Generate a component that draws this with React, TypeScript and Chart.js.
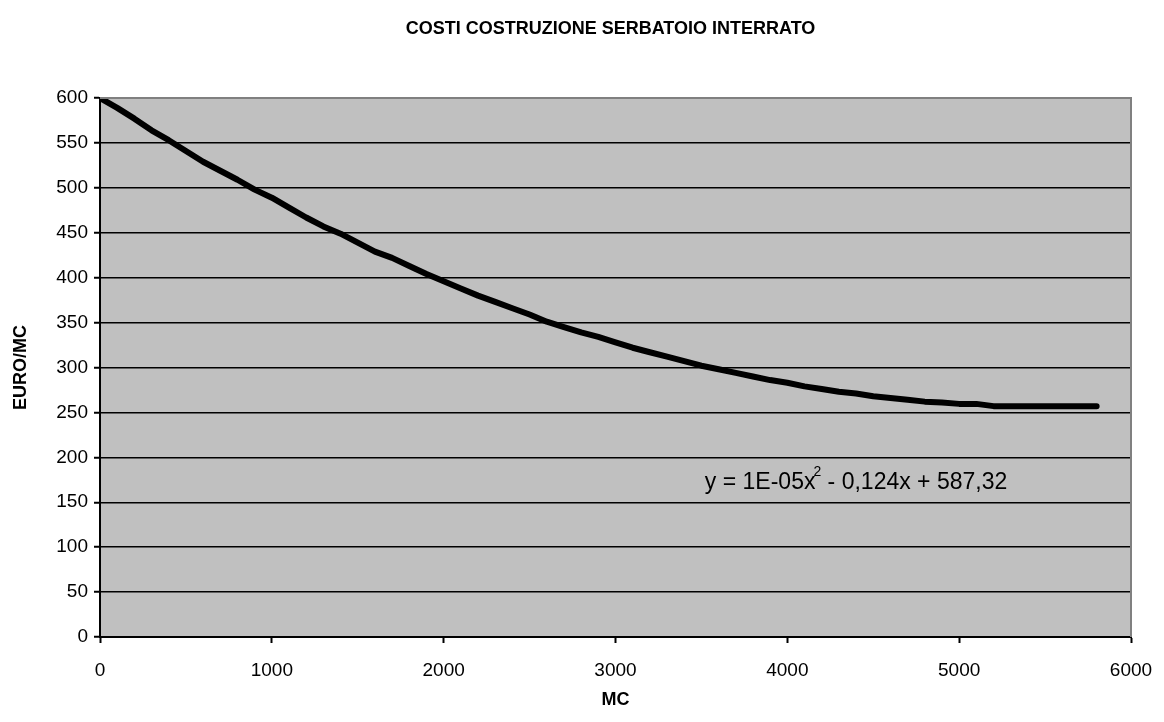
import React, { useEffect, useRef } from "react";
import { Chart, registerables } from "chart.js";

Chart.register(...registerables);

const TITLE = "COSTI COSTRUZIONE SERBATOIO INTERRATO";
const X_TITLE = "MC";
const Y_TITLE = "EURO/MC";

const mc = [
  0, 100, 200, 300, 400, 500, 600, 700, 800, 900, 1000, 1100, 1200, 1300, 1400,
  1500, 1600, 1700, 1800, 1900, 2000, 2100, 2200, 2300, 2400, 2500, 2600, 2700,
  2800, 2900, 3000, 3100, 3200, 3300, 3400, 3500, 3600, 3700, 3800, 3900, 4000,
  4100, 4200, 4300, 4400, 4500, 4600, 4700, 4800, 4900, 5000, 5100, 5200, 5300,
  5400, 5500, 5600, 5700, 5800,
];
const euroPerMc = [
  600, 589, 577, 564, 553, 541, 529, 519, 509, 498, 489, 478, 467, 457, 449,
  439, 429, 422, 413, 404, 396, 388, 380, 373, 366, 359, 351, 345,
  339, 334, 328, 322, 317, 312, 307, 302, 298, 294, 290, 286, 283,
  279, 276, 273, 271, 268, 266, 264, 262, 261, 259.5, 259.5, 257, 257,
  257, 257, 257, 257, 257,
];

const EQ_MAIN = "y = 1E-05x";
const EQ_SUP = "2";
const EQ_REST = " - 0,124x + 587,32";
const EQ_X = 3520;
const EQ_Y = 172;

const FONT = "'Liberation Sans', Arial, sans-serif";

export default function App() {
  const ref = useRef<HTMLCanvasElement | null>(null);

  useEffect(() => {
    document.body.style.margin = "0";
    const canvas = ref.current;
    if (!canvas) return;

    const bgPlugin = {
      id: "bgPlugin",
      beforeDraw(chart: any) {
        const { ctx, chartArea } = chart;
        ctx.save();
        ctx.fillStyle = "#c0c0c0";
        ctx.fillRect(
          chartArea.left,
          chartArea.top,
          chartArea.right - chartArea.left,
          chartArea.bottom - chartArea.top
        );
        ctx.restore();
      },
      afterDraw(chart: any) {
        const { ctx, chartArea } = chart;
        ctx.save();
        ctx.strokeStyle = "#808080";
        ctx.lineWidth = 2;
        ctx.beginPath();
        ctx.moveTo(chartArea.left, chartArea.top);
        ctx.lineTo(chartArea.right, chartArea.top);
        ctx.lineTo(chartArea.right, chartArea.bottom);
        ctx.stroke();
        // title
        ctx.fillStyle = "#000";
        ctx.textAlign = "center";
        ctx.textBaseline = "middle";
        ctx.font = `bold 18px ${FONT}`;
        ctx.fillText(TITLE, (chartArea.left + chartArea.right) / 2 - 5, 29);
        // equation
        const xs = chart.scales.x;
        const ys = chart.scales.y;
        const px = xs.getPixelForValue(EQ_X);
        const py = ys.getPixelForValue(EQ_Y);
        ctx.textAlign = "left";
        ctx.font = `23px ${FONT}`;
        ctx.fillText(EQ_MAIN, px, py);
        const w = ctx.measureText(EQ_MAIN).width;
        ctx.font = `14px ${FONT}`;
        ctx.fillText(EQ_SUP, px + w - 2, py - 10);
        const w2 = ctx.measureText(EQ_SUP).width;
        ctx.font = `23px ${FONT}`;
        ctx.fillText(EQ_REST, px + w - 2 + w2, py);
        ctx.restore();
      },
    };

    const chart = new Chart(canvas, {
      type: "line",
      data: {
        datasets: [
          {
            data: mc.map((x, i) => ({ x, y: euroPerMc[i] })),
            borderColor: "#000",
            borderWidth: 6,
            pointRadius: 0,
            borderCapStyle: "round",
            borderJoinStyle: "round",
            tension: 0,
            fill: false,
          },
        ],
      },
      options: {
        responsive: false,
        animation: false,
        layout: { padding: { left: 0, right: 33, top: 98, bottom: 0 } },
        plugins: {
          legend: { display: false },
          tooltip: { enabled: false },
          title: { display: false },
        },
        scales: {
          x: {
            type: "linear",
            min: 0,
            max: 6000,
            afterFit(scale: any) {
              scale.height = 85;
              scale.paddingRight = 0;
              scale.paddingLeft = 0;
            },
            ticks: {
              stepSize: 1000,
              color: "#000",
              font: { family: FONT, size: 19 },
              padding: 16,
              maxRotation: 0,
              callback: (v: any) => String(v),
            },
            grid: {
              drawOnChartArea: false,
              drawTicks: true,
              tickLength: 6,
              tickColor: "#000",
              tickWidth: 2,
            },
            border: { color: "#000", width: 2 },
            title: {
              display: true,
              text: X_TITLE,
              color: "#000",
              font: { family: FONT, size: 18, weight: "bold" },
              padding: { top: 0, bottom: 11 },
            },
          },
          y: {
            type: "linear",
            min: 0,
            max: 600,
            afterFit(scale: any) {
              scale.width = 100;
            },
            ticks: {
              stepSize: 50,
              color: "#000",
              font: { family: FONT, size: 19 },
              padding: 6,
            },
            grid: {
              color: (c: any) => (c.tick && c.tick.value === 600 ? "#808080" : "#000"),
              lineWidth: 1.5,
              drawTicks: true,
              tickLength: 6,
              tickColor: "#000",
              tickWidth: 2,
            },
            border: { color: "#000", width: 2 },
            title: {
              display: true,
              text: Y_TITLE,
              color: "#000",
              font: { family: FONT, size: 18, weight: "bold" },
              padding: { top: 10, bottom: 0 },
            },
          },
        },
      },
      plugins: [bgPlugin],
    } as any);

    return () => chart.destroy();
  }, []);

  return (
    <div style={{ width: 1164, height: 722 }}>
      <canvas ref={ref} width={1164} height={722} style={{ display: "block" }} />
    </div>
  );
}
